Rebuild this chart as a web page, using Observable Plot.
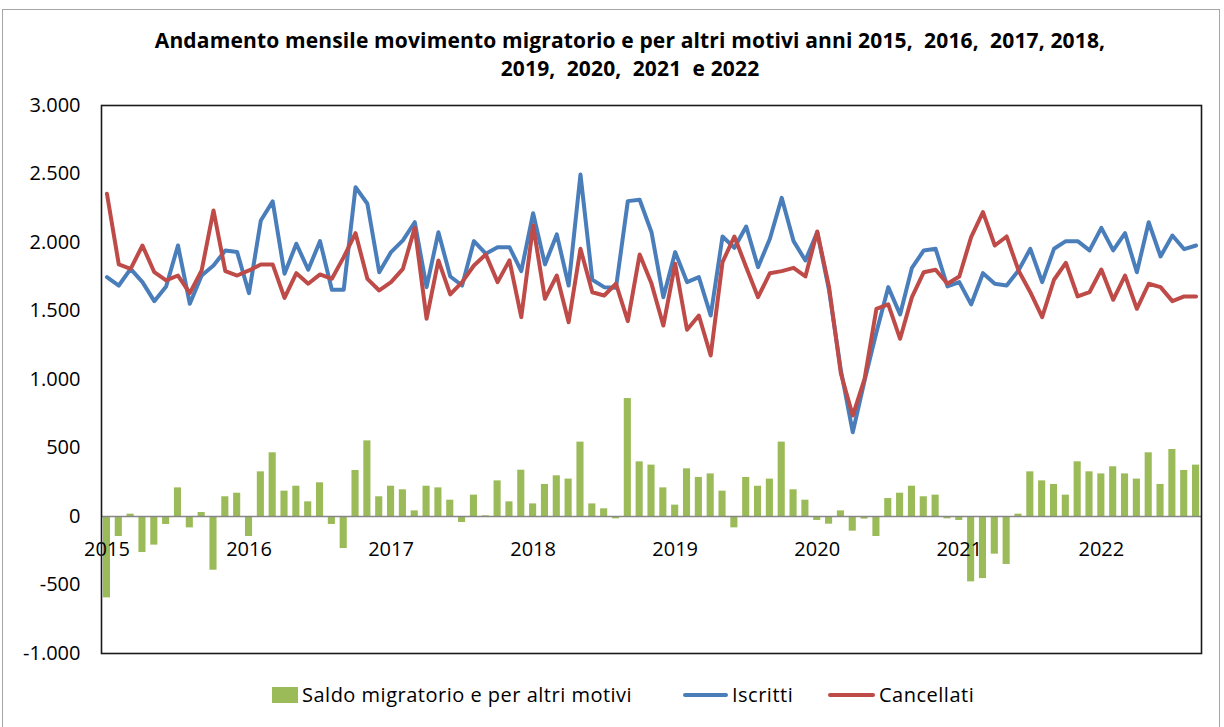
<!DOCTYPE html>
<html>
<head>
<meta charset="utf-8">
<script src="https://cdn.jsdelivr.net/npm/d3@7"></script>
<script src="https://cdn.jsdelivr.net/npm/@observablehq/plot@0.6"></script>
<style>
  html, body { margin: 0; padding: 0; background: #fff; }
  body { width: 1224px; height: 727px; overflow: hidden; position: relative; font-family: "Open Sans", "Liberation Sans", sans-serif; }
  #border { position: absolute; left: 2px; top: 9px; width: 1218px; height: 740px; border: 1px solid #a6a6a6; box-sizing: border-box; }
  #title { position: absolute; left: 0; top: 26px; width: 1260px; text-align: center; font-weight: bold; font-size: 21px; line-height: 28px; color: #000; letter-spacing: 0.15px; }
  #chart { position: absolute; left: 0; top: 90px; }
  #legend { position: absolute; left: 0; top: 673px; width: 1224px; height: 44px; font-size: 20px; letter-spacing: 0.5px; color: #000; }
  .li { position: absolute; top: 0; height: 44px; line-height: 44px; white-space: nowrap; }
  .sw { position: absolute; }
</style>
</head>
<body>
<div id="border"></div>
<div id="title">Andamento mensile movimento migratorio e per altri motivi anni 2015,&nbsp; 2016,&nbsp; 2017, 2018,<br>2019,&nbsp; 2020,&nbsp; 2021&nbsp; e 2022</div>
<div id="chart"></div>
<div id="legend"></div>
<script>
// Monthly data, January 2015 - September 2022
const years = ["2015", "2016", "2017", "2018", "2019", "2020", "2021", "2022"];
const iscritti = [
  1747,1686,1808,1711,1572,1679,1978,1553,1759,1832,1942,1930,
  1630,2161,2300,1772,1991,1801,2010,1655,1655,2404,2283,1783,
  1930,2015,2148,1674,2075,1752,1686,2010,1918,1966,1966,1791,
  2214,1840,2059,1686,2497,1728,1674,1670,2302,2312,2075,1601,
  1930,1711,1747,1467,2044,1961,2117,1820,2027,2326,2010,1869,
  2075,1650,1066,615,993,1345,1674,1475,1815,1942,1954,1679,
  1711,1548,1776,1699,1686,1796,1954,1711,1954,2010,2010,1942,
  2107,1942,2068,1783,2148,1898,2051,1951,1978
];
const cancellati = [
  2356,1840,1808,1978,1783,1723,1759,1630,1796,2234,1791,1759,
  1796,1840,1840,1596,1776,1699,1767,1735,1893,2068,1735,1650,
  1711,1808,2107,1443,1869,1621,1711,1832,1913,1711,1869,1455,
  2124,1589,1759,1418,1954,1637,1613,1699,1426,1913,1700,1394,
  1845,1363,1467,1175,1857,2044,1820,1601,1776,1791,1815,1752,
  2080,1674,1042,737,1005,1516,1548,1297,1601,1783,1801,1699,
  1752,2039,2222,1978,2044,1796,1637,1455,1728,1852,1606,1637,
  1803,1582,1759,1516,1699,1674,1572,1606,1606
];
const saldo = [
  -594,-146,17,-263,-209,-58,209,-83,29,-392,144,170,
  -146,326,465,185,221,107,246,-58,-234,336,552,144,
  221,195,41,221,209,119,-44,156,5,260,107,338,
  92,234,297,273,543,92,56,-17,861,399,375,209,
  83,348,285,311,185,-83,285,221,273,543,195,119,
  -29,-56,41,-107,-19,-146,131,170,221,144,156,-17,
  -29,-477,-453,-275,-350,17,326,260,234,156,399,326,
  311,363,311,273,465,234,489,336,375
];
const yTicks = [-1000, -500, 0, 500, 1000, 1500, 2000, 2500, 3000];

const COL_SALDO = "#9BBB59", COL_ISC = "#4A7EBB", COL_CAN = "#BE4B48";

const rows = saldo.map((v, i) => ({i, saldo: v, iscritti: iscritti[i], cancellati: cancellati[i]}));
const yearRows = years.map((y, k) => ({i: k * 12, label: y}));

const itFormat = d3.formatLocale({decimal: ",", thousands: ".", grouping: [3], currency: ["€", ""], minus: "-"}).format(",d");

const chart = Plot.plot({
  width: 1224,
  height: 583,
  marginLeft: 101,
  marginRight: 23,
  marginTop: 15,
  marginBottom: 20,
  style: {fontFamily: "'Open Sans', 'Liberation Sans', sans-serif", fontSize: "20px", color: "#000", background: "transparent"},
  x: {domain: [-0.46, 92.46], axis: null},
  y: {domain: [-1000, 3000], axis: null},
  marks: [
    Plot.rectY(rows, {x1: d => d.i - 0.3, x2: d => d.i + 0.3, y1: 0, y2: "saldo", fill: COL_SALDO}),
    Plot.ruleY([0], {stroke: "#868686", strokeWidth: 1.6}),
    Plot.line(rows, {x: "i", y: "iscritti", stroke: COL_ISC, strokeWidth: 4, strokeLinejoin: "round", strokeLinecap: "round"}),
    Plot.line(rows, {x: "i", y: "cancellati", stroke: COL_CAN, strokeWidth: 4, strokeLinejoin: "round", strokeLinecap: "round"}),
    Plot.text(yearRows, {x: "i", y: 0, text: "label", dy: 33, fontSize: 20, fill: "#000"}),
    Plot.axisY({ticks: yTicks, tickFormat: itFormat, tickSize: 0, tickPadding: 21, fontSize: 20, fill: "#000"}),
    Plot.frame({stroke: "#1a1a1a", strokeWidth: 1.6})
  ]
});
document.getElementById("chart").appendChild(chart);

// Legend
const legend = document.getElementById("legend");
const items = [
  {type: "rect", color: COL_SALDO, x: 272, w: 26, label: "Saldo migratorio e per altri motivi"},
  {type: "line", color: COL_ISC, x: 683, w: 45, label: "Iscritti"},
  {type: "line", color: COL_CAN, x: 828, w: 47, label: "Cancellati"}
];
items.forEach(it => {
  const sw = document.createElement("div");
  sw.className = "sw";
  sw.style.left = it.x + "px";
  sw.style.width = it.w + "px";
  sw.style.background = it.color;
  if (it.type === "rect") { sw.style.top = "14px"; sw.style.height = "16px"; }
  else { sw.style.top = "20px"; sw.style.height = "4px"; sw.style.borderRadius = "2px"; }
  legend.appendChild(sw);
  const t = document.createElement("div");
  t.className = "li";
  t.style.left = (it.x + it.w + 4) + "px";
  t.textContent = it.label;
  legend.appendChild(t);
});
</script>
</body>
</html>
